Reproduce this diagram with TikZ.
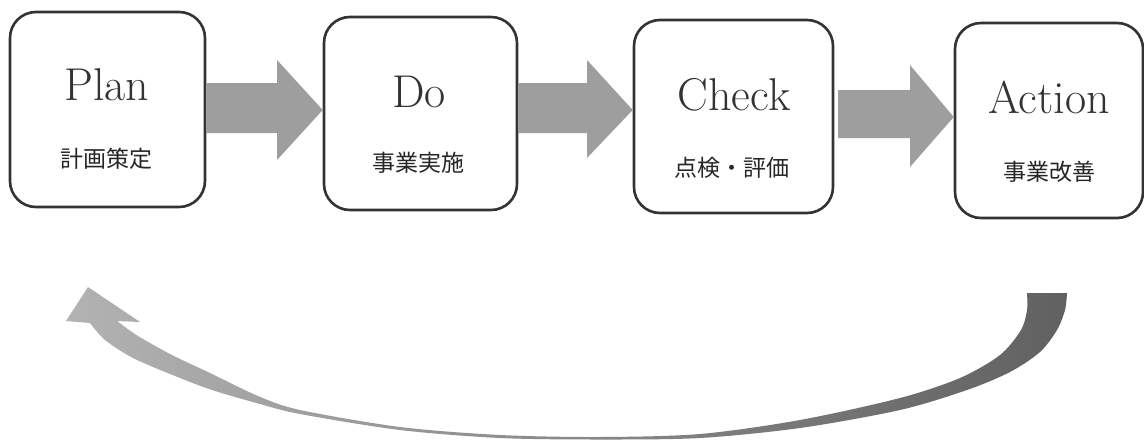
\documentclass[tikz,border=0pt]{standalone}
\usepackage{fontspec}
\newfontfamily\cjk{Noto Sans CJK JP}
\usetikzlibrary{calc}
\tikzset{
  box/.style={draw=black!80, line width=1.3pt, rounded corners=13pt, inner sep=0pt, fill=white},
  ttl/.style={anchor=base, inner sep=0pt, text=black!80, font=\fontsize{23}{27}\selectfont},
  jp/.style={inner sep=0pt, text=black!85, font=\cjk\fontsize{11.5}{13}\selectfont},
  blk/.style={fill=black!38},
}
\begin{document}
\begin{tikzpicture}[x=0.5pt,y=-0.5pt]
\fill[white] (0,0) rectangle (1144,439);
\useasboundingbox (0,0) rectangle (1144,439);

% boxes
\node[box, minimum width=97.5pt, minimum height=97.5pt] (plan) at (107.5,109.5) {};
\node[box, minimum width=96.5pt, minimum height=96.5pt] (do) at (420.5,113.5) {};
\node[box, minimum width=99.5pt, minimum height=96.5pt] (check) at (733.5,116.5) {};
\node[box, minimum width=94pt, minimum height=97.5pt] (action) at (1049,120.5) {};

% titles
\node[ttl] (plant) at (107,100) {Plan};
\node[ttl] (dot) at (419,107) {Do};
\node[ttl] (checkt) at (734,110) {Check};
\node[ttl] (actiont) at (1049,113) {Action};

% japanese
\node[jp] (planj) at (106,159) {計画策定};
\node[jp] (doj) at (418,163) {事業実施};
\node[jp] (checkj) at (732,168) {点検・評価};
\node[jp] (actionj) at (1049,172) {事業改善};

% block arrows
\fill[blk] (plan.east |- 0,83) -- (277,83) -- (277,60) -- (do.west |- 0,110)
  -- (277,160) -- (277,133) -- (plan.east |- 0,133) -- cycle;
\fill[blk] (do.east |- 0,83) -- (587,83) -- (587,60) -- (check.west |- 0,110)
  -- (587,158) -- (587,133) -- (do.east |- 0,133) -- cycle;
\fill[blk] (838,90) -- (910,90) -- (910,65) -- (action.west |- 0,117)
  -- (910,167) -- (910,138) -- (838,138) -- cycle;

% return curved arrow
\shade[left color=black!30, right color=black!62]
  plot[smooth] coordinates {(117,321) (138,336) (172,355) (210,373) (258,396) (300,410)
    (400,427) (500,435) (600,437) (700,434) (800,420) (900,398) (960,378) (1000,355)
    (1021,330) (1027,310) (1027,293)}
  -- plot[smooth] coordinates {(1067,293) (1065,310) (1057,330) (1040,352) (1010,372)
    (967,390) (900,410) (800,428) (700,438) (600,439.5) (500,438) (400,430) (300,414)
    (260,404) (212,390) (175,376) (133,358) (105,340) (90,323)}
  -- (66,321) -- (88,287) -- (140,322) -- cycle;
\end{tikzpicture}
\end{document}
